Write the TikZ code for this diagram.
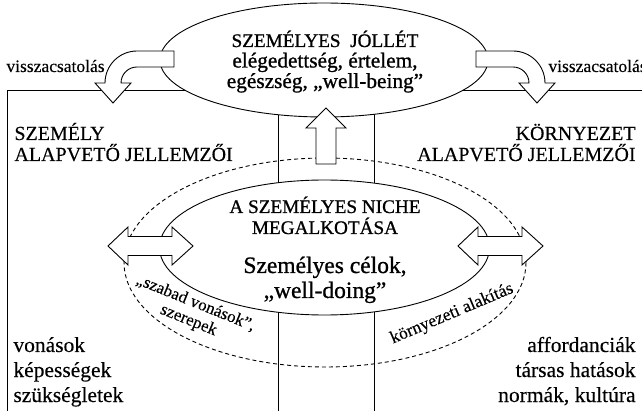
\documentclass[tikz,border=0pt]{standalone}
\usepackage{fontspec}
\setmainfont{Liberation Serif}[FakeBold=0.25]
\newfontfamily\ellfont{Liberation Serif}[FakeBold=0.9]

\begin{document}
\begin{tikzpicture}[x=1pt, y=-1pt, line width=0.9pt,
  block/.style={draw, fill=white, line join=miter},
  dashline/.style={dash pattern=on 4pt off 3pt},
  capstext/.style={inner sep=0pt, font=\fontsize{20}{21}\selectfont},
  listtext/.style={inner sep=0pt, font=\fontsize{21.5}{24}\selectfont},
  backtext/.style={inner sep=0pt, font=\fontsize{17.5}{18}\selectfont},
  ellcaps/.style={inner sep=0pt, anchor=base, font=\ellfont\fontsize{19.2}{20}\selectfont},
  elltext/.style={inner sep=0pt, anchor=base, font=\ellfont\fontsize{21.3}{22}\selectfont},
  slanttext/.style={inner sep=0pt, align=center, font=\fontsize{17}{18.5}\selectfont}]
  \clip (0,0) rectangle (642,411);
  \draw (7,420) -- (7,90) -- (278,90) -- (278,420);
  \draw (374,420) -- (374,90) -- (650,90);
  \draw[dashline] (325,262.5) ellipse [x radius=201, y radius=104.5];
  \draw[block] (324.5,247.5) ellipse [x radius=165, y radius=67.5];
  \draw[block] (324,60) ellipse [x radius=164, y radius=57];
  \draw[block] (326,108) -- (346,128) -- (336,128) -- (336,164) -- (316,164) -- (316,128) -- (306,128) -- cycle;
  \foreach \a in {108, 458}
    \draw[block] (\a,246) -- (\a+20,227) -- (\a+20,236.5) -- (\a+64,236.5) -- (\a+64,227) -- (\a+85,246)
      -- (\a+64,265) -- (\a+64,255.5) -- (\a+20,255.5) -- (\a+20,265) -- cycle;
  \draw[block] (174,51) -- (137,51) arc (270:180:32) -- (95,83) -- (113,103) -- (131,83) -- (121,83)
    arc (180:270:16) -- (174,67) -- cycle;
  \draw[block] (476,51) -- (513,51) arc (270:360:32) -- (555,83) -- (537,103) -- (519,83) -- (529,83)
    arc (0:-90:16) -- (476,67) -- cycle;

  \node[ellcaps] (jollet) at (325,47) {SZEMÉLYES\ \ JÓLLÉT};
  \node[elltext] (jollet-2) at (325,67.5) {elégedettség, értelem,};
  \node[elltext] (jollet-3) at (325,88) {egészség, „well-being”};
  \node[ellcaps] (niche) at (325,213) {A SZEMÉLYES NICHE};
  \node[ellcaps] (niche-2) at (325,234) {MEGALKOTÁSA};
  \node[elltext, font=\ellfont\fontsize{23.5}{24}\selectfont] (celok) at (325,273) {Személyes célok,};
  \node[elltext, font=\ellfont\fontsize{23.5}{24}\selectfont] (celok-2) at (325,298) {„well-doing”};

  \node[backtext, anchor=base west] (vissza-l) at (6,72) {visszacsatolás};
  \node[backtext, anchor=base west] (vissza-r) at (548,72) {visszacsatolás};

  \node[capstext, anchor=base west] (szemely) at (14,140) {SZEMÉLY};
  \node[capstext, anchor=base west] (szemely-2) at (14,161) {ALAPVETŐ JELLEMZŐI};
  \node[capstext, anchor=base east] (kornyezet) at (636,140) {KÖRNYEZET};
  \node[capstext, anchor=base east] (kornyezet-2) at (636,161) {ALAPVETŐ JELLEMZŐI};

  \node[slanttext, rotate=-22] (szabad) at (192,312) {„szabad vonások”,\\szerepek};
  \node[slanttext, rotate=23, font=\fontsize{17.5}{18}\selectfont] (alakitas) at (452,314) {környezeti alakítás};

  \foreach \t [count=\i] in {vonások, képességek, szükségletek}
    \node[listtext, anchor=base west] (vonas-\i) at (13,327+25*\i) {\t};
  \foreach \t [count=\i] in {affordanciák, társas hatások, {normák, kultúra}}
    \node[listtext, anchor=base east] (afford-\i) at (636,327+25*\i) {\t};
\end{tikzpicture}
\end{document}
